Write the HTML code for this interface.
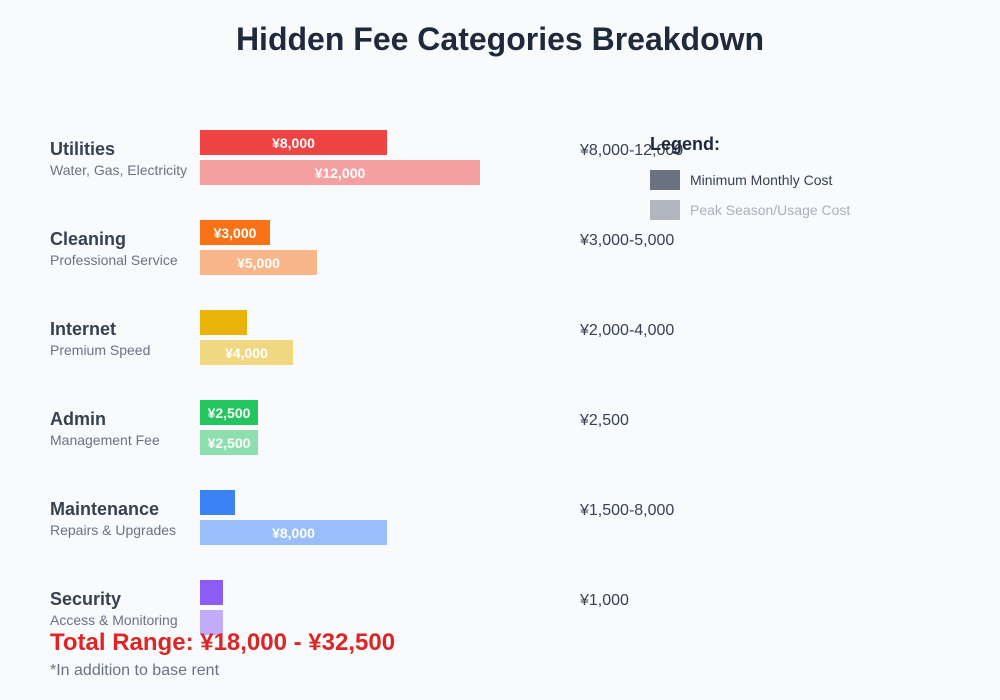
<!DOCTYPE html>
<html><head><meta charset="utf-8"><style>
html,body{margin:0;padding:0;background:#f8fafc;}
svg{display:block;font-family:"Liberation Sans",Arial,sans-serif;}
</style></head><body>
<svg width="1000" height="700" viewBox="0 0 1000 700">
<rect width="1000" height="700" fill="#f8fafc"/>
<text x="500" y="50" text-anchor="middle" font-size="32" font-weight="bold" fill="#1e293b">Hidden Fee Categories Breakdown</text>

<g font-size="18" font-weight="bold" fill="#374151">
<text x="50" y="155">Utilities</text>
<text x="50" y="245">Cleaning</text>
<text x="50" y="335">Internet</text>
<text x="50" y="425">Admin</text>
<text x="50" y="515">Maintenance</text>
<text x="50" y="605">Security</text>
</g>
<g font-size="14" fill="#6b7280">
<text x="50" y="175">Water, Gas, Electricity</text>
<text x="50" y="265">Professional Service</text>
<text x="50" y="355">Premium Speed</text>
<text x="50" y="445">Management Fee</text>
<text x="50" y="535">Repairs &amp; Upgrades</text>
<text x="50" y="625">Access &amp; Monitoring</text>
</g>

<rect x="200" y="130" width="187" height="25" fill="#ef4444"/>
<rect x="200" y="160" width="280" height="25" fill="#ef4444" opacity="0.5"/>
<rect x="200" y="220" width="70" height="25" fill="#f97316"/>
<rect x="200" y="250" width="117" height="25" fill="#f97316" opacity="0.5"/>
<rect x="200" y="310" width="47" height="25" fill="#eab308"/>
<rect x="200" y="340" width="93" height="25" fill="#eab308" opacity="0.5"/>
<rect x="200" y="400" width="58" height="25" fill="#22c55e"/>
<rect x="200" y="430" width="58" height="25" fill="#22c55e" opacity="0.5"/>
<rect x="200" y="490" width="35" height="25" fill="#3b82f6"/>
<rect x="200" y="520" width="187" height="25" fill="#3b82f6" opacity="0.5"/>
<rect x="200" y="580" width="23" height="25" fill="#8b5cf6"/>
<rect x="200" y="610" width="23" height="25" fill="#8b5cf6" opacity="0.5"/>

<g font-size="14" font-weight="bold" fill="#ffffff" text-anchor="middle">
<text x="293.5" y="148">¥8,000</text>
<text x="340" y="178">¥12,000</text>
<text x="235" y="238">¥3,000</text>
<text x="258.5" y="268">¥5,000</text>
<text x="246.5" y="358">¥4,000</text>
<text x="229" y="418">¥2,500</text>
<text x="229" y="448">¥2,500</text>
<text x="293.5" y="538">¥8,000</text>
</g>

<g font-size="16" fill="#374151">
<text x="580" y="155">¥8,000-12,000</text>
<text x="580" y="245">¥3,000-5,000</text>
<text x="580" y="335">¥2,000-4,000</text>
<text x="580" y="425">¥2,500</text>
<text x="580" y="515">¥1,500-8,000</text>
<text x="580" y="605">¥1,000</text>
</g>

<text x="650" y="150" font-size="18" font-weight="bold" fill="#1e293b">Legend:</text>
<rect x="650" y="170" width="30" height="20" fill="#6b7280"/>
<text x="690" y="185" font-size="14" fill="#374151">Minimum Monthly Cost</text>
<rect x="650" y="200" width="30" height="20" fill="#6b7280" opacity="0.5"/>
<text x="690" y="215" font-size="14" fill="#374151" opacity="0.4">Peak Season/Usage Cost</text>

<text x="50" y="650" font-size="24" font-weight="bold" fill="#dc2626">Total Range: ¥18,000 - ¥32,500</text>
<text x="50" y="675" font-size="16" fill="#6b7280">*In addition to base rent</text>
</svg>
</body></html>
